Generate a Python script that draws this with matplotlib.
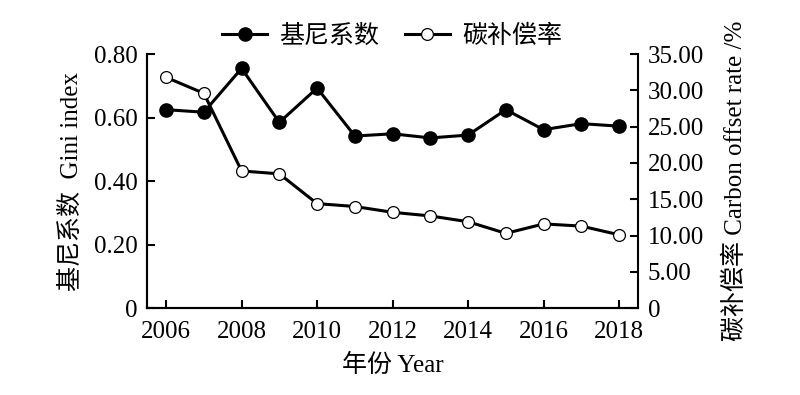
import matplotlib
matplotlib.use('Agg')
import matplotlib.pyplot as plt

plt.rcParams['font.family'] = ['Liberation Serif', 'Noto Sans CJK SC']
plt.rcParams['axes.unicode_minus'] = False

years = [2006, 2007, 2008, 2009, 2010, 2011, 2012, 2013, 2014, 2015, 2016, 2017, 2018]
gini = [0.625, 0.617, 0.755, 0.585, 0.693, 0.542, 0.549, 0.536, 0.545, 0.625, 0.562, 0.581, 0.573]
carbon = [31.8, 29.6, 18.9, 18.5, 14.4, 14.0, 13.2, 12.7, 11.9, 10.3, 11.6, 11.3, 10.1]

xticks = [2006, 2008, 2010, 2012, 2014, 2016, 2018]
left_ticks = [0, 0.2, 0.4, 0.6, 0.8]
left_labels = ['0', '0.20', '0.40', '0.60', '0.80']
right_ticks = [0, 5, 10, 15, 20, 25, 30, 35]
right_labels = ['0', '5.00', '10.00', '15.00', '20.00', '25.00', '30.00', '35.00']

fs = 18

fig = plt.figure(figsize=(8, 3.95), dpi=100)
ax = fig.add_axes([0.184, 0.22, 0.6135, 0.643])
ax2 = ax.twinx()

l1, = ax.plot(years, gini, color='black', lw=2.2, marker='o', ms=9.5,
              mfc='black', mec='black', label='基尼系数', zorder=3)
l2, = ax2.plot(years, carbon, color='black', lw=2.2, marker='o', ms=8.5,
               mfc='white', mec='black', mew=0.9, label='碳补偿率', zorder=3)

ax.set_xlim(2005.5, 2018.5)
ax.set_ylim(0, 0.8)
ax2.set_ylim(0, 35)
ax.set_xticks(xticks)
ax.set_xticklabels([str(y) for y in xticks], fontsize=fs)
ax.set_yticks(left_ticks)
ax.set_yticklabels(left_labels, fontsize=fs)
ax2.set_yticks(right_ticks)
ax2.set_yticklabels(right_labels, fontsize=fs)

for a in (ax, ax2):
    for s in a.spines.values():
        s.set_linewidth(1.5)
    a.spines['top'].set_visible(False)
    a.tick_params(direction='in', length=6, width=1.5, pad=7)
ax.spines['right'].set_visible(False)
ax.tick_params(axis='x', pad=9)

ax.set_xlabel('年份 Year', fontsize=fs, labelpad=8)
ax.set_ylabel('基尼系数  Gini index', fontsize=fs, labelpad=8)
ax2.set_ylabel('碳补偿率 Carbon offset rate /%', fontsize=fs, labelpad=14)

fig.legend(handles=[l1, l2], loc='upper center', bbox_to_anchor=(0.49, 0.995),
           ncol=2, frameon=False, fontsize=fs, handlelength=1.8,
           columnspacing=1.0, handletextpad=0.5)

fig.savefig('out.png', dpi=100)
